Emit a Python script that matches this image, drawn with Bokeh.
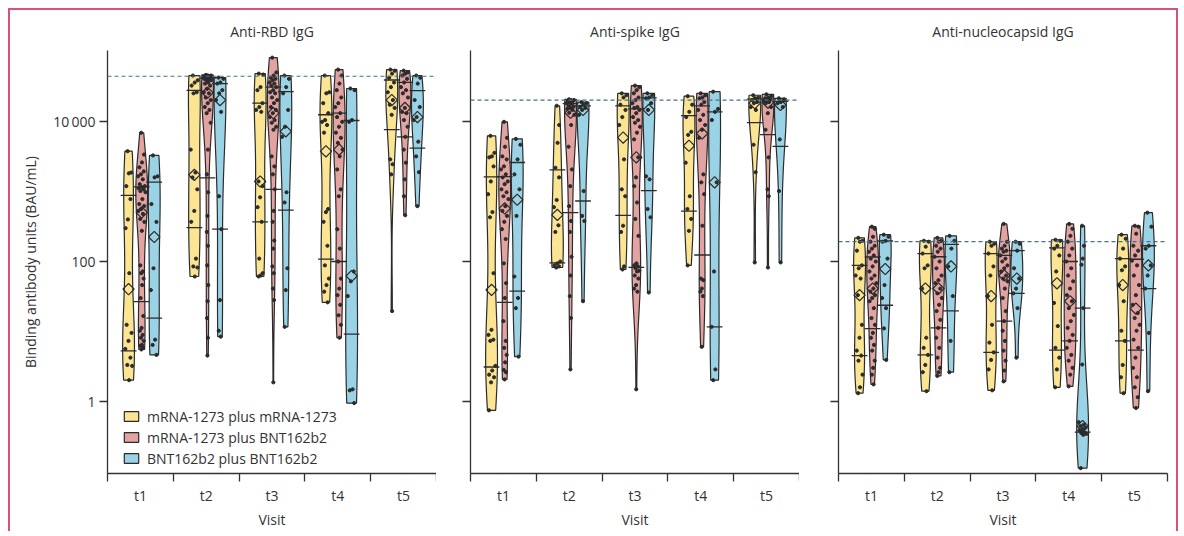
import numpy as np
from bokeh.plotting import figure
from bokeh.models import Range1d, FixedTicker, Span, Legend, LegendItem, ColumnDataSource
from bokeh.layouts import row
from bokeh.embed import file_html
from bokeh.resources import INLINE

FONT = "Open Sans"
visits = ["t1", "t2", "t3", "t4", "t5"]
groups = ["mRNA-1273 plus mRNA-1273", "mRNA-1273 plus BNT162b2", "BNT162b2 plus BNT162b2"]
panels = ["Anti-RBD IgG", "Anti-spike IgG", "Anti-nucleocapsid IgG"]
thresholds = [44900, 20500, 192]
colors = ["#FBE593", "#E3A3A1", "#9BD3E6"]

# ---- Anti-RBD IgG (BAU/mL), one list per visit ----
rbd_mm = [
    [3800, 1880, 1830, 1200, 783, 400, 300, 68, 12.4, 9.5, 7.3, 5.6, 4.2, 3.3, 3.2, 2.0],
    [46000, 39400, 36500, 33000, 26500, 25600, 4000, 1880, 1600, 1080, 530, 370, 110, 85, 82, 61],
    [49000, 47500, 31400, 28400, 18500, 16300, 14800, 13900, 1400, 1200, 830, 600, 370, 110, 68, 63, 61],
    [46000, 26500, 25600, 18500, 13300, 10600, 10000, 9000, 7000, 565, 510, 370, 168, 88, 57, 46, 37, 26],
    [56000, 54000, 49000, 42800, 36600, 31400, 26500, 20500, 17600, 15800, 12600, 2900, 2470, 1770, 19.5],
]
rbd_mb = [
    [6980, 3400, 2620, 2230, 1950, 1770, 1660, 1500, 1280, 1200, 1160, 1120, 1080, 1020, 984, 783, 665, 623,
     565, 529, 480, 407, 369, 275, 88, 72, 68, 57, 46, 30, 16.6, 11.2, 10.2, 8.9, 8.1, 7.3, 6.4, 6.2, 5.8, 5.5],
    [47000, 46000, 46000, 45500, 45000, 44400, 44000, 43500, 43000, 42800, 42000, 41300, 40500, 39900, 39400,
     36600, 35300, 33000, 29700, 26500, 25600, 22300, 20500, 18500, 16300, 14800, 13300, 9700, 4000, 1770,
     980, 450, 265, 168, 88, 46, 27, 15.5, 8.1, 4.5],
    [83000, 51000, 46000, 42800, 41300, 39400, 36600, 35300, 33000, 31400, 28400, 26500, 25600, 22300, 20500,
     18500, 16300, 14800, 13300, 11700, 10600, 9700, 8500, 7700, 3200, 2300, 1770, 1080, 530, 370, 200, 153,
     85, 68, 41, 28, 1.86],
    [56000, 46000, 35300, 28400, 22300, 18500, 16300, 13300, 11700, 10000, 8500, 7000, 5900, 5000, 4000, 3200,
     2080, 1080, 860, 290, 153, 100, 57, 41, 33, 24, 17, 12.4, 8.1],
    [54000, 51000, 49000, 46000, 41300, 36600, 31400, 28400, 25600, 22300, 15800, 13900, 13300, 10600, 8500,
     6100, 4000, 2600, 1500, 860, 460],
]
rbd_bb = [
    [3300, 1660, 1600, 665, 369, 80, 39, 7.6, 6.4, 4.6],
    [43000, 41300, 36600, 35300, 28400, 25600, 20500, 13900, 860, 290, 28, 10.2, 8.4],
    [46000, 41300, 31400, 25600, 14800, 8500, 6100, 980, 700, 80, 39, 11.6],
    [30000, 28400, 10600, 10000, 72, 52, 32, 1.48, 1.43, 0.94],
    [46000, 42800, 35300, 20500, 16300, 11700, 10600, 5200, 3200, 1900, 620],
]

# ---- Anti-spike IgG ----
spk_mm = [
    [6300, 3600, 3200, 3100, 2300, 1400, 920, 510, 430, 68, 10.5, 8.9, 7.6, 7.3, 3.2, 2.75, 2.4, 2.2, 1.86, 0.74],
    [17000, 9000, 5000, 2200, 1600, 760, 600, 330, 265, 100, 94, 88, 85, 82],
    [25600, 24000, 22300, 17600, 14800, 11700, 9000, 2900, 1080, 860, 325, 265, 85, 77],
    [23300, 17600, 13900, 11700, 7200, 6500, 2600, 860, 565, 407, 275, 88],
    [24000, 22300, 21700, 20500, 19200, 18500, 16300, 14800, 4700, 1900, 97],
]
spk_mb = [
    [10000, 5900, 4400, 3200, 2900, 2300, 2080, 1770, 1600, 1400, 1280, 1080, 980, 860, 783, 620, 530, 450,
     370, 290, 210, 94, 49, 30, 14, 7.3, 5.8, 4.6, 3.6, 2.8, 2.6, 2.05],
    [21000, 20500, 20500, 19800, 19800, 19200, 18500, 18000, 17000, 16500, 15800, 15300, 14800, 13500, 12600,
     9000, 4400, 2080, 1200, 620, 380, 265, 117, 63, 32, 15.5, 2.85],
    [33000, 31400, 28400, 25600, 22300, 20500, 18500, 16300, 15800, 14800, 13300, 11700, 10600, 9700, 8500,
     7000, 5600, 3100, 1600, 1200, 700, 407, 233, 94, 88, 85, 80, 74, 72, 63, 57, 46, 41, 37, 1.48],
    [25600, 24000, 22300, 21700, 19200, 17600, 14800, 12600, 10600, 9000, 7700, 5900, 1770, 1360, 920, 325,
     57, 54, 41, 37, 32, 6],
    [24800, 23300, 22300, 21700, 21000, 20500, 19800, 19200, 18500, 16300, 13300, 7700, 3100, 1080, 860, 82],
]
spk_bb = [
    [5700, 4700, 2900, 1770, 1080, 450, 61, 30, 21.5, 4.35],
    [19200, 18500, 17600, 16300, 15800, 14800, 12600, 1020, 450, 380, 27],
    [25600, 24000, 22300, 21700, 18500, 14800, 1660, 1500, 565, 430, 36],
    [27000, 15300, 13900, 10600, 1360, 72, 11.6, 2.85, 2.0],
    [21700, 21000, 19200, 18500, 16300, 5600, 1020, 97],
]

# ---- Anti-nucleocapsid IgG ----
ncp_mm = [
    [218, 198, 192, 143, 88, 80, 63, 57, 33, 12.4, 8.1, 5.3, 4.5, 3.8, 2.4, 1.58, 1.3],
    [198, 192, 163, 130, 88, 80, 41, 8.1, 5.8, 4.6, 3.3, 2.6, 1.39],
    [192, 180, 168, 130, 85, 63, 32, 12.4, 6.9, 5.0, 3.9, 2.85, 1.43],
    [205, 198, 168, 153, 122, 72, 25.5, 11.9, 5.8, 4.2, 2.85, 1.58],
    [242, 212, 153, 110, 85, 75, 46, 27, 10.2, 7.3, 3.3, 2.2, 1.3],
]
ncp_mb = [
    [315, 294, 226, 192, 168, 153, 138, 122, 110, 100, 85, 72, 63, 57, 49, 41, 37, 33, 30, 27, 21.5, 15.5,
     12.4, 9.5, 8.1, 6.4, 5.3, 3.8, 3.0, 2.4, 1.74],
    [218, 198, 192, 168, 153, 138, 117, 100, 80, 63, 54, 49, 41, 35, 30, 24, 19.5, 14.6, 11.2, 8.1, 5.8, 4.2,
     3.0, 2.6, 2.3],
    [345, 192, 168, 153, 143, 138, 122, 110, 100, 88, 80, 72, 63, 57, 52, 41, 30, 19.5, 14, 10.2, 7.3, 5.3,
     3.8, 2.75, 1.92],
    [345, 294, 233, 192, 153, 122, 100, 80, 63, 52, 41, 33, 27, 21.5, 17.2, 14, 11.2, 8.9, 7.3, 5.8, 4.6, 3.8,
     3.0, 2.4, 1.63],
    [325, 315, 250, 168, 143, 122, 103, 88, 63, 46, 33, 24, 18.3, 15.5, 12.4, 10.2, 7.6, 5.8, 4.2, 3.0, 2.2,
     1.58, 1.14, 0.8],
]
ncp_bb = [
    [242, 226, 198, 192, 110, 46, 30, 21.5, 11, 3.9],
    [233, 198, 153, 85, 32, 7.3, 2.6],
    [192, 180, 143, 80, 57, 41, 35, 21.5, 4.2],
    [325, 168, 110, 90, 21.5, 3.35, 0.5, 0.46, 0.44, 0.42, 0.4, 0.38, 0.36, 0.35, 0.34, 0.33, 0.11],
    [500, 315, 168, 153, 88, 63, 41, 9.5, 1.39],
]

panel_data = [[rbd_mm, rbd_mb, rbd_bb], [spk_mm, spk_mb, spk_bb], [ncp_mm, ncp_mb, ncp_bb]]

DODGE = [-0.18, 0.02, 0.21]
HALF = 0.09
QHALF = 0.12
YMIN, YMAX = 10 ** -1.0355, 10 ** 5.0213
INK = "#2b2b2b"


def violin(vals, center):
    lv = np.log10(np.asarray(vals, float))
    n = len(lv)
    sd = lv.std(ddof=1)
    bw = max(sd * n ** (-0.2), 0.04)
    grid = np.linspace(lv.min(), lv.max(), 160)
    dens = np.exp(-0.5 * ((grid[:, None] - lv[None, :]) / bw) ** 2).sum(1)
    w = dens / dens.max() * HALF
    xs = np.concatenate([center + w, (center - w)[::-1]])
    ys = 10 ** np.concatenate([grid, grid[::-1]])
    return list(xs), list(ys), (lambda v: np.interp(np.log10(v), grid, w))


def make_panel(k, left, right):
    p = figure(width=left + 329 + right, height=521, x_range=Range1d(0, 5),
               y_range=Range1d(YMIN, YMAX), y_axis_type="log", output_backend="svg",
               toolbar_location=None, min_border_left=left, min_border_right=right,
               min_border_top=40, min_border_bottom=53, title=panels[k])
    p.title.align = "center"
    p.title.text_font = FONT
    p.title.text_font_size = "14px"
    p.title.text_font_style = "normal"
    p.title.text_color = "#333333"
    p.title.standoff = 19
    p.grid.visible = False
    p.outline_line_color = None
    p.background_fill_color = "white"
    p.border_fill_color = "white"

    ya = p.yaxis[0]
    ya.ticker = FixedTicker(ticks=[1, 100, 10000], minor_ticks=[])
    if k == 0:
        ya.major_label_overrides = {1: "1", 100: "100", 10000: "10\u2009000"}
    else:
        ya.major_label_overrides = {1: "", 100: "", 10000: ""}
    ya.major_tick_out = 8
    ya.major_tick_in = 0
    ya.minor_tick_out = 0
    ya.minor_tick_in = 0
    ya.axis_line_color = "#333333"
    ya.axis_line_width = 1.3
    ya.major_tick_line_color = "#333333"
    ya.major_tick_line_width = 1.3
    ya.major_label_text_font = FONT
    ya.major_label_text_font_size = "14px"
    ya.major_label_text_color = "#333333"
    ya.major_label_standoff = 4
    if k == 0:
        ya.axis_label = "Binding antibody units (BAU/mL)"
        ya.axis_label_text_font = FONT
        ya.axis_label_text_font_size = "14px"
        ya.axis_label_text_font_style = "normal"
        ya.axis_label_text_color = "#333333"
        ya.axis_label_standoff = 10

    xa = p.xaxis[0]
    xa.ticker = FixedTicker(ticks=[i + 0.5 for i in range(5)], minor_ticks=list(range(6)))
    xa.major_label_overrides = {i + 0.5: visits[i] for i in range(5)}
    xa.major_tick_out = 0
    xa.major_tick_in = 0
    xa.minor_tick_out = 8
    xa.minor_tick_in = 0
    xa.minor_tick_line_color = "#333333"
    xa.minor_tick_line_width = 1.3
    xa.axis_line_color = "#333333"
    xa.axis_line_width = 1.3
    xa.major_label_text_font = FONT
    xa.major_label_text_font_size = "14px"
    xa.major_label_text_color = "#333333"
    xa.major_label_standoff = 4
    xa.axis_label = "Visit"
    xa.axis_label_text_font = FONT
    xa.axis_label_text_font_size = "14px"
    xa.axis_label_text_font_style = "normal"
    xa.axis_label_text_color = "#333333"
    xa.axis_label_standoff = 2

    p.add_layout(Span(location=thresholds[k], dimension="width", line_color="#45708a",
                      line_dash="4 3", line_width=1.2))

    vrs = []
    seg = dict(x0=[], x1=[], y=[])
    dots = dict(x=[], y=[])
    meds = dict(x=[], y=[])
    for g in range(3):
        vx, vy = [], []
        for t in range(5):
            vals = panel_data[k][g][t]
            c = t + 0.5 + DODGE[g]
            xs, ys, wfun = violin(vals, c)
            vx.append(xs)
            vy.append(ys)
            arr = np.asarray(vals, float)
            q1, med, q3 = np.percentile(arr, [25, 50, 75])
            for q in (q1, q3):
                seg["x0"].append(c - QHALF)
                seg["x1"].append(c + QHALF)
                seg["y"].append(q)
            meds["x"].append(c)
            meds["y"].append(med)
            for i, v in enumerate(vals):
                frac = ((i * 0.6180339887 + 0.31) % 1.0) * 2 - 1
                dots["x"].append(c + frac * 0.7 * float(wfun(v)))
                dots["y"].append(v)
        r = p.patches(xs="xs", ys="ys", source=ColumnDataSource(dict(xs=vx, ys=vy)),
                      fill_color=colors[g], line_color=INK, line_width=1.2)
        vrs.append(r)
    p.segment(x0="x0", x1="x1", y0="y", y1="y", source=ColumnDataSource(seg),
              line_color=INK, line_width=1.3)
    p.scatter(x="x", y="y", source=ColumnDataSource(dots), size=3.2, color=INK)
    p.scatter(x="x", y="y", source=ColumnDataSource(meds), marker="square", angle=np.pi / 4,
              size=8, fill_color=None, line_color=INK, line_width=1.2)

    if k == 0:
        leg = Legend(items=[LegendItem(label=groups[g], renderers=[vrs[g]]) for g in range(3)],
                     location=(15, 5), padding=0, margin=0, spacing=1, label_height=20,
                     glyph_width=18, glyph_height=12, label_standoff=7,
                     label_text_font=FONT, label_text_font_size="14px", label_text_color="#333333",
                     background_fill_alpha=0, border_line_alpha=0)
        p.add_layout(leg)
    return p


p1 = make_panel(0, 97, 0)
p2 = make_panel(1, 34, 0)
p3 = make_panel(2, 39, 9)
lay = row(p1, p2, p3)
lay.styles = {"border-top": "2px solid #d6517d", "border-left": "2px solid #d6517d",
              "border-right": "2px solid #d6517d", "background": "white",
              "margin-left": "8px", "margin-top": "8px"}

open("out.html", "w").write(file_html(lay, INLINE))
